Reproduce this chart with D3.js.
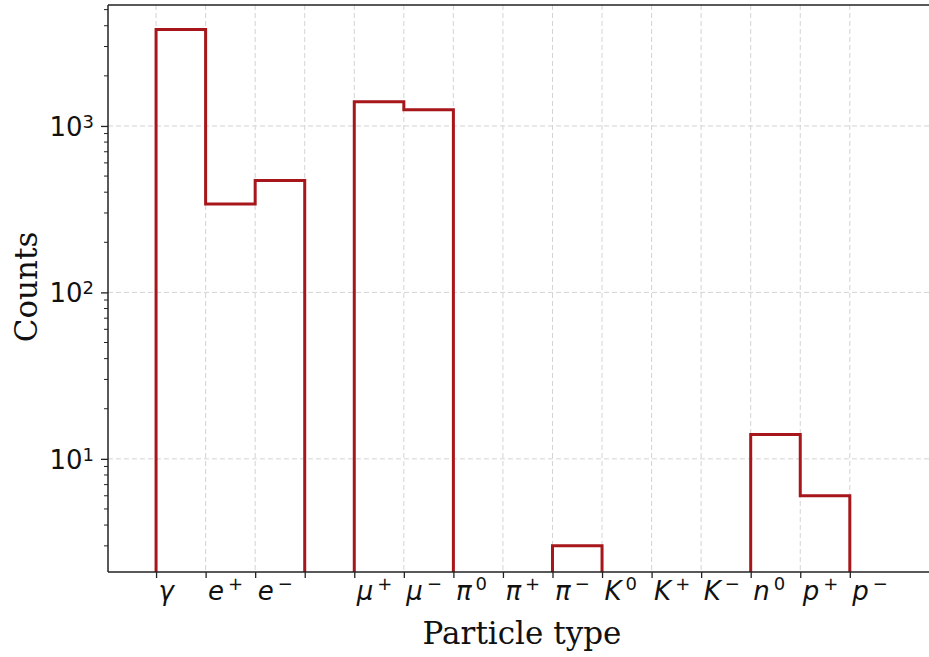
<!DOCTYPE html>
<html>
<head>
<meta charset="utf-8">
<script src="https://cdn.jsdelivr.net/npm/d3@7"></script>
<style>
  body { margin: 0; background: #fff; }
  svg { display: block; }
</style>
</head>
<body>
<svg id="chart" width="929" height="657"></svg>
<script>
// bin counts (14 bins between 15 edges)
const counts = [3800, 340, 470, 0, 1400, 1250, 0, 0, 3, 0, 0, 0, 14, 6];
// tick labels at each bin edge: base symbol + superscript
const tickBase = ["γ", "e", "e", "", "μ", "μ", "π", "π", "π", "K", "K", "K", "n", "p", "p"];
const tickSup = ["", "+", "−", "", "+", "−", "0", "+", "−", "0", "+", "−", "0", "+", "−"];
const yMajor = [10, 100, 1000];

const svg = d3.select("#chart");
const plotL = 108, plotT = 5, plotB = 572, plotR = 939;
const lineColor = "#a6161b";

const x = d3.scaleLinear().domain([-0.97, 15.8]).range([plotL, plotR]);
const y = d3.scaleLog().domain([2.09, 5330]).range([plotB, plotT]);

// clip
svg.append("defs").append("clipPath").attr("id", "plotclip")
  .append("rect").attr("x", plotL).attr("y", plotT).attr("width", plotR - plotL).attr("height", plotB - plotT);

const edges = d3.range(counts.length + 1);

// grid
const grid = svg.append("g").attr("stroke", "#b8b8b8").attr("stroke-width", 1)
  .attr("stroke-dasharray", "5,3").attr("opacity", 0.6);
grid.selectAll(".vg").data(edges).join("line")
  .attr("x1", d => x(d)).attr("x2", d => x(d))
  .attr("y1", plotT).attr("y2", plotB);
grid.selectAll(".hg").data(yMajor).join("line")
  .attr("x1", plotL).attr("x2", plotR)
  .attr("y1", d => y(d)).attr("y2", d => y(d));

// step outline
const yv = v => v > 0 ? y(v) : plotB + 20;
const pts = [[x(0), plotB + 20]];
counts.forEach((c, i) => {
  pts.push([x(i), yv(c)]);
  pts.push([x(i + 1), yv(c)]);
});
pts.push([x(counts.length), plotB + 20]);
svg.append("path")
  .attr("clip-path", "url(#plotclip)")
  .attr("d", d3.line()(pts))
  .attr("fill", "none")
  .attr("stroke", lineColor)
  .attr("stroke-width", 3)
  .attr("stroke-linejoin", "miter");

// y axis
const minor = [];
for (let e = 0; e <= 3; e++) for (let m = 2; m <= 9; m++) {
  const v = m * Math.pow(10, e);
  if (v >= 2.09 && v <= 5330) minor.push(v);
}
const yAxis = svg.append("g").attr("transform", `translate(${plotL},0)`)
  .call(d3.axisLeft(y).tickValues(yMajor).tickSize(7).tickPadding(6).tickFormat(""));
yAxis.select(".domain").remove();
yAxis.selectAll(".tick line").attr("stroke", "#222").attr("stroke-width", 1.3);
yAxis.selectAll(".tick").each(function(d) {
  const t = d3.select(this).append("text")
    .attr("x", -14).attr("dy", "0.36em")
    .attr("text-anchor", "end")
    .attr("fill", "#111")
    .style("font-family", "DejaVu Sans")
    .style("font-size", "26px");
  t.append("tspan").text("10");
  t.append("tspan").attr("dy", "-0.45em").style("font-size", "18px").text(Math.log10(d));
});
svg.append("g").selectAll("line").data(minor).join("line")
  .attr("x1", plotL - 4).attr("x2", plotL)
  .attr("y1", d => y(d)).attr("y2", d => y(d))
  .attr("stroke", "#222").attr("stroke-width", 1);

// x axis
const xAxis = svg.append("g").attr("transform", `translate(0,${plotB})`)
  .call(d3.axisBottom(x).tickValues(edges).tickSize(6).tickFormat(""));
xAxis.select(".domain").remove();
xAxis.selectAll(".tick line").attr("stroke", "#222").attr("stroke-width", 1.3);
xAxis.selectAll(".tick").each(function(d) {
  if (!tickBase[d]) return;
  const t = d3.select(this).append("text")
    .attr("x", 2).attr("y", 28)
    .attr("text-anchor", "start")
    .attr("fill", "#111")
    .style("font-family", "DejaVu Sans")
    .style("font-size", "26px");
  t.append("tspan").style("font-style", "italic").text(tickBase[d]);
  t.append("tspan").attr("dx", 4).attr("dy", -10).style("font-size", "18px").text(tickSup[d]);
});

// spines
const spines = svg.append("g").attr("stroke", "#222").attr("stroke-width", 1.5).attr("fill", "none");
spines.append("line").attr("x1", plotL).attr("x2", plotR).attr("y1", plotB).attr("y2", plotB);
spines.append("line").attr("x1", plotL).attr("x2", plotL).attr("y1", plotT).attr("y2", plotB);
spines.append("line").attr("x1", plotL).attr("x2", plotR).attr("y1", plotT).attr("y2", plotT);

// axis titles
svg.append("text")
  .attr("x", 522).attr("y", 644)
  .attr("text-anchor", "middle")
  .attr("fill", "#111")
  .style("font-family", "DejaVu Serif")
  .style("font-size", "31px")
  .text("Particle type");
svg.append("text")
  .attr("transform", "translate(37,287) rotate(-90)")
  .attr("text-anchor", "middle")
  .attr("fill", "#111")
  .style("font-family", "DejaVu Serif")
  .style("font-size", "31px")
  .text("Counts");
</script>
</body>
</html>
